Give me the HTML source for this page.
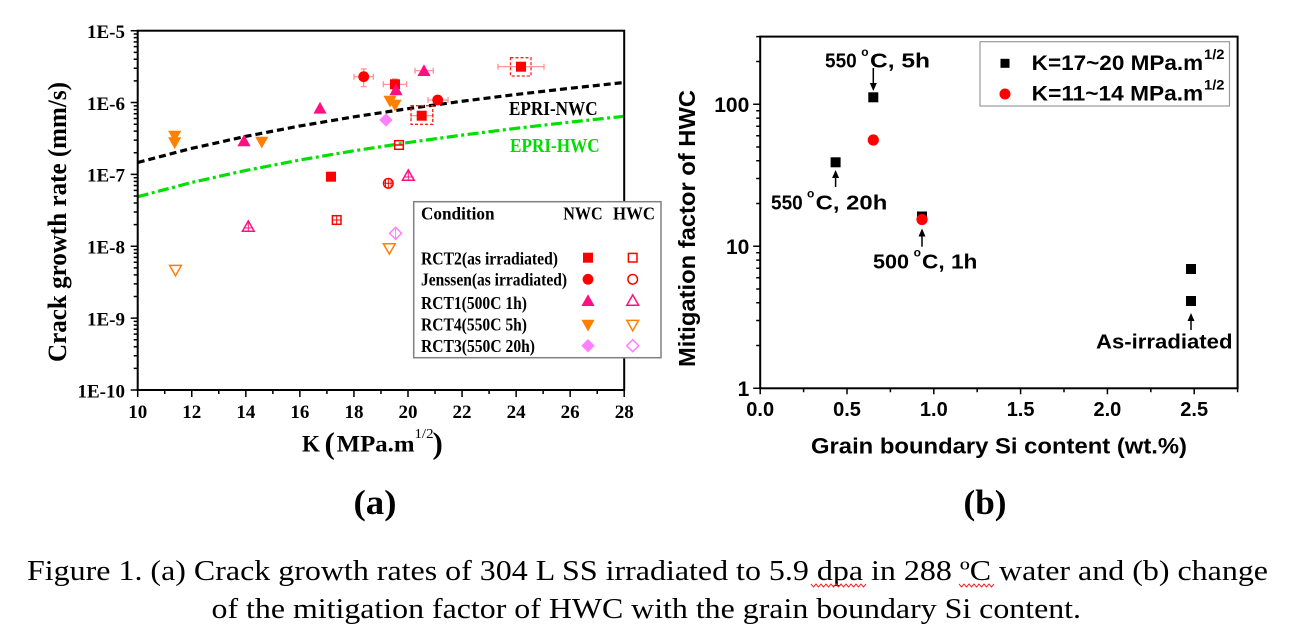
<!DOCTYPE html>
<html><head><meta charset="utf-8"><style>
html,body{margin:0;padding:0;background:#fff}svg{display:block}
.ser{font-family:"Liberation Serif","Times New Roman",serif}
.san{font-family:"Liberation Sans",Arial,sans-serif}
</style></head>
<body>
<svg width="1290" height="640" viewBox="0 0 1290 640" xmlns="http://www.w3.org/2000/svg">
<defs>
<path id="tu" d="M0,-6.5 L6.6,5.3 L-6.6,5.3Z"/>
<path id="td" d="M0,6.5 L6.6,-5.3 L-6.6,-5.3Z"/>
<path id="dm" d="M0,-6.7 L6.7,0 L0,6.7 L-6.7,0Z"/>
<rect id="sq" x="-5" y="-5" width="10" height="10"/>
<circle id="ci" cx="0" cy="0" r="5.4"/>
<path id="tuo" d="M0,-5.8 L5.9,4.6 L-5.9,4.6Z"/>
<path id="tdo" d="M0,5.8 L5.9,-4.6 L-5.9,-4.6Z"/>
<path id="dmo" d="M0,-6 L6,0 L0,6 L-6,0Z"/>
<rect id="sqo" x="-4.3" y="-4.3" width="8.6" height="8.6"/>
<circle id="cio" cx="0" cy="0" r="4.8"/>
</defs>
<rect width="1290" height="640" fill="#fff"/>

<!-- ================= (a) ================= -->
<g class="ser" font-weight="bold">
<polyline fill="none" stroke="#000" stroke-width="3.2" stroke-dasharray="7,4"
 points="137.7,162.5 191.76,148.33 245.82,136.36 299.88,125.98 353.94,116.83 408,108.65 462.06,101.24 516.12,94.48 570.18,88.26 624.2,82.5"/>
<polyline fill="none" stroke="#00e000" stroke-width="3.2" stroke-dasharray="11,3.5,3,3.5"
 points="137.7,196.7 191.76,182.46 245.82,170.43 299.88,160 353.94,150.8 408,142.58 462.06,135.13 516.12,128.34 570.18,122.09 624.2,116.3"/>
<text x="509" y="115" font-size="20" textLength="88.6" lengthAdjust="spacingAndGlyphs" fill="#000">EPRI-NWC</text>
<text x="510" y="152" font-size="20" textLength="89.7" lengthAdjust="spacingAndGlyphs" fill="#00dd00">EPRI-HWC</text>

<g stroke="#ff8a8a" stroke-width="1.2" fill="none">
<path d="M354,76.7 H373.3 M354,73.7 V79.7 M373.3,73.7 V79.7 M363.7,69 V86.7 M360.7,69 H366.7 M360.7,86.7 H366.7"/>
<path d="M383.3,84.3 H406.7 M383.3,81.3 V87.3 M406.7,81.3 V87.3 M395,79 V90 M392,79 H398 M392,90 H398"/>
<path d="M415,70.7 H433.3 M415,67.7 V73.7 M433.3,67.7 V73.7"/>
<path d="M428,100 H448 M428,97 V103 M448,97 V103"/>
<path d="M498,66.7 H544 M498,63.7 V69.7 M544,63.7 V69.7"/>
<path d="M411,115.7 H433 M411,112.7 V118.7 M433,112.7 V118.7"/>
</g>
<g stroke="#ff2020" stroke-width="1.3" fill="none" stroke-dasharray="3,2">
<rect x="510.5" y="57.7" width="20.5" height="18.3"/>
<rect x="411" y="105.7" width="21.7" height="18.6"/>
</g>

<g fill="#ff0000">
<use href="#sq" x="521" y="66.7"/>
<use href="#ci" x="363.7" y="76.7"/>
<use href="#sq" x="395" y="84.3"/>
<use href="#ci" x="437.7" y="100"/>
<use href="#sq" x="421.7" y="115.7"/>
<use href="#sq" x="331" y="176.7"/>
</g>
<g fill="#ff1080">
<use href="#tu" x="424" y="70.7"/>
<use href="#tu" x="396" y="90"/>
<use href="#tu" x="320" y="108.3"/>
<use href="#tu" x="244" y="141"/>
</g>
<g fill="#ff8000">
<use href="#td" x="390" y="101"/>
<use href="#td" x="395" y="105"/>
<use href="#td" x="174.7" y="136"/>
<use href="#td" x="174.7" y="142.6"/>
<use href="#td" x="261.8" y="142"/>
</g>
<g fill="#ff80ff">
<use href="#dm" x="386" y="120"/>
</g>

<g fill="none" stroke-width="1.5">
<g stroke="#ff0000">
<use href="#sqo" x="399" y="145"/>
<path d="M394.7,145 H403.3"/>
<use href="#cio" x="388.3" y="183.3"/>
<path d="M388.3,178.5 V188.1 M383.5,183.3 H393.1 M385.5,179.5 V187 M391.1,179.5 V187" stroke-width="1"/>
<use href="#sqo" x="336.7" y="220"/>
<path d="M332.4,220 H341 M336.7,215.7 V224.3" stroke-width="1"/>
</g>
<g stroke="#ff1080">
<use href="#tuo" x="408.3" y="175.7"/>
<path d="M408.3,171 V180.3 M404,177 H412.6" stroke-width="1"/>
<use href="#tuo" x="248.3" y="226.7"/>
<path d="M248.3,222 V231.3 M244,228 H252.6" stroke-width="1"/>
</g>
<g stroke="#ff80ff">
<use href="#dmo" x="395.6" y="233.3"/>
<path d="M395.6,228 V238.6" stroke-width="1"/>
</g>
<g stroke="#ff8000">
<use href="#tdo" x="389.3" y="248.3"/>
<use href="#tdo" x="175.5" y="270"/>
</g>
</g>

<rect x="137.7" y="30.7" width="486.5" height="359.3" fill="none" stroke="#000" stroke-width="2"/>
<path stroke="#000" stroke-width="1.5" fill="none" d="
M137.7,30.7 h-7 M137.7,102.56 h-7 M137.7,174.42 h-7 M137.7,246.28 h-7 M137.7,318.14 h-7 M137.7,390 h-7
M137.7,80.93 h-4 M137.7,68.27 h-4 M137.7,59.3 h-4 M137.7,52.33 h-4 M137.7,46.64 h-4 M137.7,41.83 h-4 M137.7,37.67 h-4 M137.7,33.99 h-4
M137.7,152.79 h-4 M137.7,140.13 h-4 M137.7,131.16 h-4 M137.7,124.19 h-4 M137.7,118.5 h-4 M137.7,113.69 h-4 M137.7,109.53 h-4 M137.7,105.85 h-4
M137.7,224.65 h-4 M137.7,211.99 h-4 M137.7,203.02 h-4 M137.7,196.05 h-4 M137.7,190.36 h-4 M137.7,185.55 h-4 M137.7,181.39 h-4 M137.7,177.71 h-4
M137.7,296.51 h-4 M137.7,283.85 h-4 M137.7,274.88 h-4 M137.7,267.91 h-4 M137.7,262.22 h-4 M137.7,257.41 h-4 M137.7,253.25 h-4 M137.7,249.57 h-4
M137.7,368.37 h-4 M137.7,355.71 h-4 M137.7,346.74 h-4 M137.7,339.77 h-4 M137.7,334.08 h-4 M137.7,329.27 h-4 M137.7,325.11 h-4 M137.7,321.43 h-4
"/>
<path stroke="#000" stroke-width="1.5" fill="none" d="
M137.7,390 v7 M191.76,390 v7 M245.82,390 v7 M299.88,390 v7 M353.94,390 v7 M408,390 v7 M462.06,390 v7 M516.12,390 v7 M570.18,390 v7 M624.2,390 v7
M164.73,390 v4 M218.79,390 v4 M272.85,390 v4 M326.91,390 v4 M380.97,390 v4 M435.03,390 v4 M489.09,390 v4 M543.15,390 v4 M597.21,390 v4
"/>
<g font-size="19" text-anchor="end" fill="#000">
<text x="125" y="38">1E-5</text>
<text x="125" y="109.9">1E-6</text>
<text x="125" y="181.7">1E-7</text>
<text x="125" y="253.6">1E-8</text>
<text x="125" y="325.4">1E-9</text>
<text x="125" y="397.3">1E-10</text>
</g>
<g font-size="19" text-anchor="middle" fill="#000">
<text x="137.7" y="418">10</text>
<text x="191.76" y="418">12</text>
<text x="245.82" y="418">14</text>
<text x="299.88" y="418">16</text>
<text x="353.94" y="418">18</text>
<text x="408" y="418">20</text>
<text x="462.06" y="418">22</text>
<text x="516.12" y="418">24</text>
<text x="570.18" y="418">26</text>
<text x="624.2" y="418">28</text>
</g>
<text transform="translate(66,222) rotate(-90)" text-anchor="middle" font-size="26" textLength="280" lengthAdjust="spacingAndGlyphs" fill="#000">Crack growth rate (mm/s)</text>
<text x="302" y="451.7" font-size="23" fill="#000">K</text>
<text x="324.5" y="453.5" font-size="31" fill="#000">(</text>
<text x="336.7" y="451.7" font-size="23" textLength="77.8" lengthAdjust="spacingAndGlyphs" fill="#000">MPa.m</text>
<text x="414.5" y="438" font-size="14" font-weight="normal" textLength="19" lengthAdjust="spacingAndGlyphs" fill="#000">1/2</text>
<text x="432.5" y="453.5" font-size="31" fill="#000">)</text>

<rect x="413.7" y="201.7" width="247.3" height="156" fill="#fff" stroke="#808080" stroke-width="1.5"/>
<g font-size="18" fill="#000">
<text x="421" y="219.5" textLength="73.5" lengthAdjust="spacingAndGlyphs">Condition</text>
<text x="563.3" y="219.5" textLength="39.4" lengthAdjust="spacingAndGlyphs">NWC</text>
<text x="613" y="219.5" textLength="42" lengthAdjust="spacingAndGlyphs">HWC</text>
<text x="421" y="264.5" textLength="137" lengthAdjust="spacingAndGlyphs">RCT2(as irradiated)</text>
<text x="421" y="285.5" textLength="146" lengthAdjust="spacingAndGlyphs">Jenssen(as irradiated)</text>
<text x="421" y="308.8" textLength="106" lengthAdjust="spacingAndGlyphs">RCT1(500C 1h)</text>
<text x="421" y="330.5" textLength="106" lengthAdjust="spacingAndGlyphs">RCT4(550C 5h)</text>
<text x="421" y="352.2" textLength="114" lengthAdjust="spacingAndGlyphs">RCT3(550C 20h)</text>
</g>
<use href="#sq" x="588" y="257.7" fill="#ff0000"/>
<use href="#ci" x="588" y="279.3" fill="#ff0000"/>
<use href="#tu" x="588" y="300.7" fill="#ff1080"/>
<use href="#td" x="588" y="325" fill="#ff8000"/>
<use href="#dm" x="588" y="345.7" fill="#ff80ff"/>
<g fill="none" stroke-width="1.5">
<use href="#sqo" x="632.7" y="257.7" stroke="#ff0000"/>
<use href="#cio" x="632.7" y="279.3" stroke="#ff0000"/>
<use href="#tuo" x="632.7" y="300.7" stroke="#ff1080"/>
<use href="#tdo" x="632.7" y="325" stroke="#ff8000"/>
<use href="#dmo" x="632.7" y="345.7" stroke="#ff80ff"/>
</g>
</g>

<!-- ================= (b) ================= -->
<g class="san" font-weight="bold">
<rect x="760.2" y="36.6" width="477.4" height="351.7" fill="none" stroke="#000" stroke-width="2"/>
<path stroke="#000" stroke-width="1.5" fill="none" d="
M760.2,388.3 h-7 M760.2,246.3 h-7 M760.2,104.3 h-7
M760.2,345.55 h-4 M760.2,320.55 h-4 M760.2,302.8 h-4 M760.2,289.05 h-4 M760.2,277.8 h-4 M760.2,268.3 h-4 M760.2,260.1 h-4 M760.2,252.8 h-4
M760.2,203.55 h-4 M760.2,178.55 h-4 M760.2,160.8 h-4 M760.2,147.05 h-4 M760.2,135.8 h-4 M760.2,126.3 h-4 M760.2,118.1 h-4 M760.2,110.8 h-4
M760.2,61.55 h-4 M760.2,36.6 h-4
M760.2,388.3 v6 M847,388.3 v6 M933.8,388.3 v6 M1020.6,388.3 v6 M1107.4,388.3 v6 M1194.2,388.3 v6
M803.6,388.3 v4 M890.4,388.3 v4 M977.2,388.3 v4 M1064,388.3 v4 M1150.8,388.3 v4 M1237.6,388.3 v4
"/>
<g font-size="21" text-anchor="end" fill="#000">
<text x="749.3" y="112">100</text>
<text x="749.3" y="254">10</text>
<text x="749.3" y="396">1</text>
</g>
<g font-size="20" text-anchor="middle" fill="#000">
<text x="760.2" y="416">0.0</text>
<text x="847" y="416">0.5</text>
<text x="933.8" y="416">1.0</text>
<text x="1020.6" y="416">1.5</text>
<text x="1107.4" y="416">2.0</text>
<text x="1194.2" y="416">2.5</text>
</g>
<text transform="translate(695,228.5) rotate(-90)" text-anchor="middle" font-size="23" textLength="277" lengthAdjust="spacingAndGlyphs" fill="#000">Mitigation factor of HWC</text>
<text x="999" y="453.5" text-anchor="middle" font-size="22" textLength="376" lengthAdjust="spacingAndGlyphs" fill="#000">Grain boundary Si content (wt.%)</text>

<g fill="#000">
<rect x="830.6" y="157.3" width="10" height="10"/>
<rect x="868.3" y="92.3" width="10" height="10"/>
<rect x="917" y="211.5" width="10" height="10"/>
<rect x="1186" y="264" width="10" height="10"/>
<rect x="1186" y="296" width="10" height="10"/>
</g>
<g fill="#ff0000">
<circle cx="873.3" cy="140" r="5.6"/>
<circle cx="922" cy="219.5" r="5.6"/>
</g>
<g stroke="#000" stroke-width="1.5" fill="none">
<path d="M873.3,68 V84"/>
<path d="M835.6,187 V177"/>
<path d="M922,246.7 V235.5"/>
<path d="M1191,330 V320"/>
</g>
<g fill="#000">
<path d="M869.8,83 L876.8,83 L873.3,91Z"/>
<path d="M832.1,178 L839.1,178 L835.6,170Z"/>
<path d="M918.5,236.5 L925.5,236.5 L922,228.5Z"/>
<path d="M1187.5,321 L1194.5,321 L1191,313Z"/>
</g>
<g font-size="20" fill="#000">
<text x="825" y="67.7" textLength="31.7" lengthAdjust="spacingAndGlyphs">550</text>
<text x="861.2" y="56" font-size="12">o</text>
<text x="870" y="67.7" textLength="60" lengthAdjust="spacingAndGlyphs">C, 5h</text>
<text x="771" y="209.3" textLength="31.7" lengthAdjust="spacingAndGlyphs">550</text>
<text x="807" y="197.6" font-size="12">o</text>
<text x="815.7" y="209.3" textLength="71.6" lengthAdjust="spacingAndGlyphs">C, 20h</text>
<text x="873" y="268.3" textLength="36" lengthAdjust="spacingAndGlyphs">500</text>
<text x="913.6" y="256.6" font-size="12">o</text>
<text x="922" y="268.3" textLength="55.4" lengthAdjust="spacingAndGlyphs">C, 1h</text>
<text x="1096" y="348.3" textLength="136.5" lengthAdjust="spacingAndGlyphs">As-irradiated</text>
</g>
<rect x="980" y="41.7" width="249.5" height="64.3" fill="#fff" stroke="#999" stroke-width="1.2"/>
<rect x="1000.5" y="58.8" width="9" height="9" fill="#000"/>
<circle cx="1005" cy="94" r="5.5" fill="#ff0000"/>
<g font-size="21" fill="#000">
<text x="1031.7" y="70" textLength="171.5" lengthAdjust="spacingAndGlyphs">K=17~20 MPa.m</text>
<text x="1204" y="59" font-size="14" textLength="20.5" lengthAdjust="spacingAndGlyphs">1/2</text>
<text x="1031.7" y="100.5" textLength="171.5" lengthAdjust="spacingAndGlyphs">K=11~14 MPa.m</text>
<text x="1204" y="89.5" font-size="14" textLength="20.5" lengthAdjust="spacingAndGlyphs">1/2</text>
</g>
</g>

<!-- ================= labels & caption ================= -->
<g class="ser" fill="#000">
<text x="375" y="514" text-anchor="middle" font-size="35" font-weight="bold" textLength="43" lengthAdjust="spacingAndGlyphs">(a)</text>
<text x="985" y="514" text-anchor="middle" font-size="35" font-weight="bold" textLength="43" lengthAdjust="spacingAndGlyphs">(b)</text>
<text x="27" y="580" font-size="28" textLength="1241" lengthAdjust="spacingAndGlyphs">Figure 1. (a) Crack growth rates of 304 L SS irradiated to 5.9 dpa in 288 ºC water and (b) change</text>
<text x="211.5" y="618" font-size="28" textLength="869.5" lengthAdjust="spacingAndGlyphs">of the mitigation factor of HWC with the grain boundary Si content.</text>
</g>
<g stroke="#ff2020" stroke-width="1" fill="none">
<polyline points="811,584 813.5,587 816,584 818.5,587 821,584 823.5,587 826,584 828.5,587 831,584 833.5,587 836,584 838.5,587 841,584 843.5,587 846,584 848.5,587 851,584 853.5,587 856,584 858.5,587 861,584 863.5,587 866,584"/>
<polyline points="959,584 961.5,587 964,584 966.5,587 969,584 971.5,587 974,584 976.5,587 979,584 981.5,587 984,584 986.5,587 989,584 991.5,587 994,584"/>
</g>
</svg>
</body></html>
